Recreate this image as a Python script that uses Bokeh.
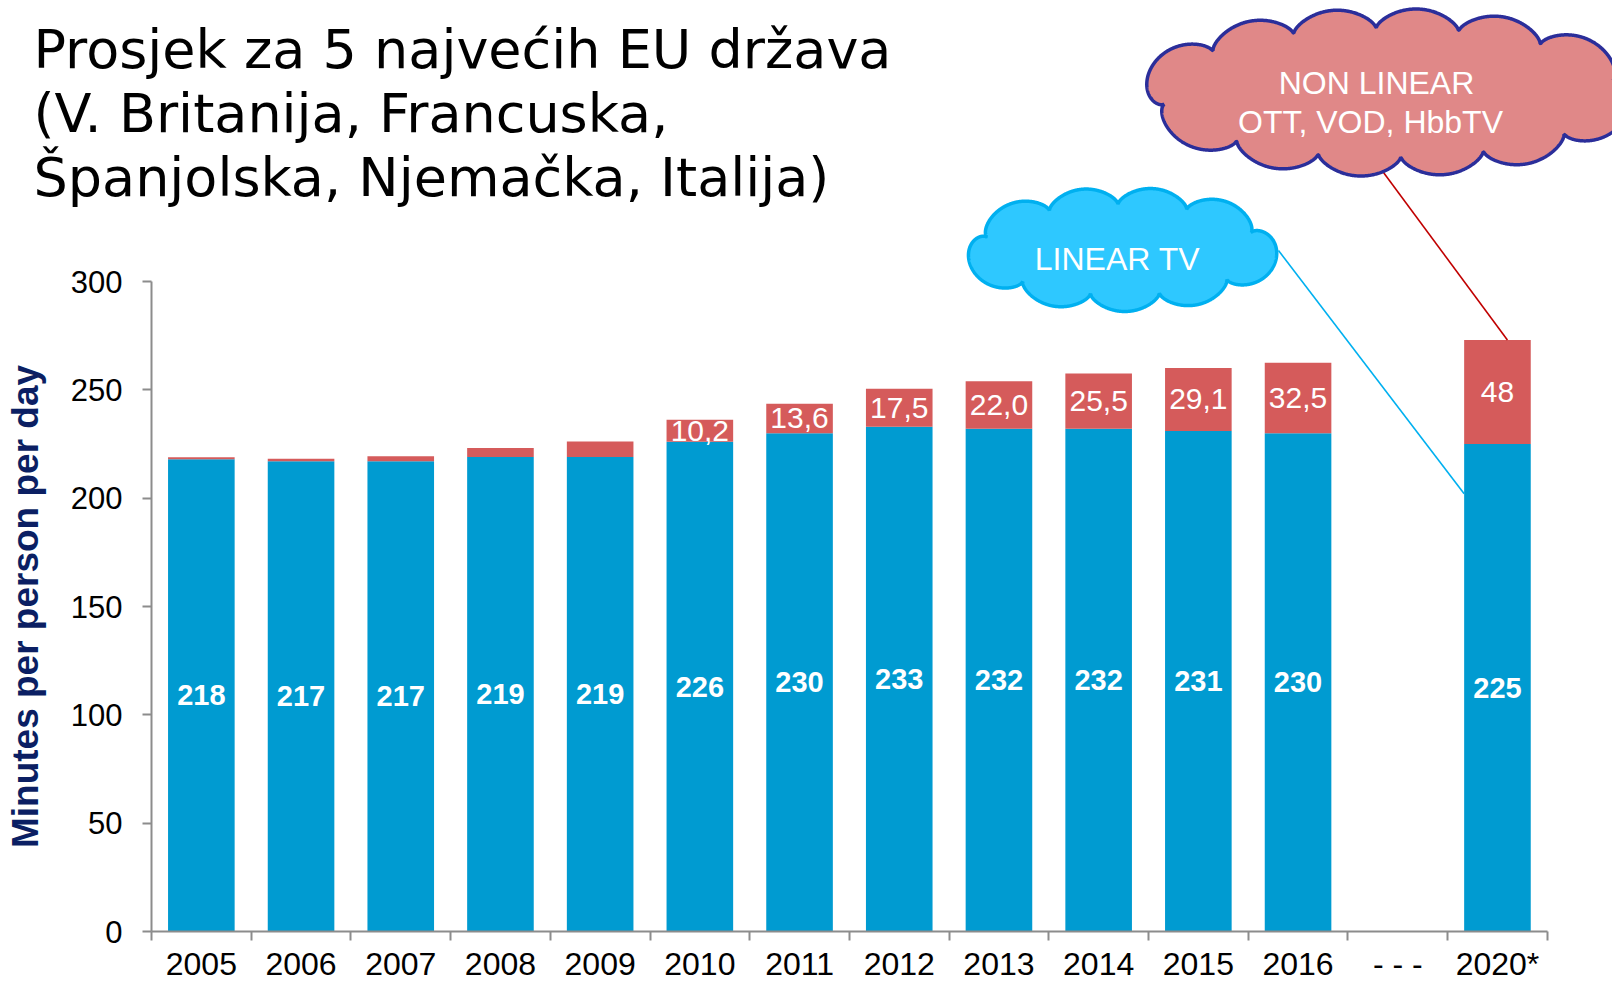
import numpy as np
from bokeh.plotting import figure
from bokeh.models import (ColumnDataSource, Range1d, FixedTicker, Label)
from bokeh.core.properties import value
from bokeh.embed import file_html
from bokeh.resources import INLINE

# ---------------- data ----------------
categories = ["2005", "2006", "2007", "2008", "2009", "2010", "2011", "2012",
              "2013", "2014", "2015", "2016", "- - -", "2020*"]
linear_tv = [218, 217, 217, 219, 219, 226, 230, 233, 232, 232, 231, 230, None, 225]
non_linear = [0.9, 1.2, 2.3, 4.2, 7.1, 10.2, 13.6, 17.5, 22.0, 25.5, 29.1, 32.5, None, 48]
non_linear_labels = ["", "", "", "", "", "10,2", "13,6", "17,5", "22,0", "25,5",
                     "29,1", "32,5", "", "48"]
y_ticks = [0, 50, 100, 150, 200, 250, 300]
title_lines = ["Prosjek za 5 najvećih EU država",
               "(V. Britanija, Francuska,",
               "Španjolska, Njemačka, Italija)"]
y_label = "Minutes per person per day"

# ---------------- geometry (page pixels, canvas at page origin) ----------------
W, H = 1612, 984
AX_LEFT = 151        # page x of the y axis line
AX_BOTTOM = 931      # page y of the x axis line
cat_px = 99.7
y_px = (AX_BOTTOM - 281) / 300.0
x0 = -0.5 - AX_LEFT / cat_px
x1 = x0 + W / cat_px
y1 = AX_BOTTOM / y_px
y0 = -(H - AX_BOTTOM) / y_px

def PX(page_x):
    return x0 + np.asarray(page_x, dtype=float) / cat_px

def PY(page_y):
    return (AX_BOTTOM - np.asarray(page_y, dtype=float)) / y_px

BLUE = "#009BD1"
RED = "#D55B5B"
BAR_W = 0.668

p = figure(width=W, height=H, output_backend="svg", toolbar_location=None,
           x_range=Range1d(x0, x1), y_range=Range1d(y0, y1),
           min_border_left=0, min_border_right=0, min_border_top=0,
           min_border_bottom=0)
p.outline_line_color = None
p.xgrid.visible = False
p.ygrid.visible = False
p.background_fill_color = "white"

idx = [i for i, v in enumerate(linear_tv) if v is not None]
src = ColumnDataSource(dict(
    x=idx,
    lin=[linear_tv[i] for i in idx],
    top=[linear_tv[i] + non_linear[i] for i in idx],
    lin_mid=[linear_tv[i] / 2 for i in idx],
    nl_mid=[linear_tv[i] + non_linear[i] / 2 for i in idx],
    lin_txt=[str(linear_tv[i]) for i in idx],
    nl_txt=[non_linear_labels[i] for i in idx],
))

p.vbar(x="x", bottom=0, top="lin", width=BAR_W, source=src,
       fill_color=BLUE, line_color=None)
p.vbar(x="x", bottom="lin", top="top", width=BAR_W, source=src,
       fill_color=RED, line_color=None)

p.text(x="x", y="lin_mid", text="lin_txt", source=src, text_color="white",
       text_font=value("Liberation Sans"), text_font_style="bold",
       text_font_size="29px", text_align="center", text_baseline="middle")
p.text(x="x", y="nl_mid", text="nl_txt", source=src, text_color="white",
       text_font=value("Liberation Sans"), text_font_size="30px",
       text_align="center", text_baseline="middle")

# ---------------- axes ----------------
xa = p.xaxis[0]
xa.fixed_location = 0
xa.ticker = FixedTicker(ticks=list(range(len(categories))),
                        minor_ticks=[i - 0.5 for i in range(len(categories) + 1)])
xa.major_label_overrides = {i: c for i, c in enumerate(categories)}
xa.bounds = (-0.5, len(categories) - 0.5)
xa.major_tick_out = 0
xa.major_tick_in = 0
xa.minor_tick_out = 9
xa.minor_tick_in = 0
xa.minor_tick_line_color = "#8C8C8C"
xa.minor_tick_line_width = 2
xa.axis_line_color = "#8C8C8C"
xa.axis_line_width = 2
xa.major_label_text_font = "Liberation Sans"
xa.major_label_text_font_size = "32px"
xa.major_label_text_color = "black"
xa.major_label_standoff = 5

ya = p.yaxis[0]
ya.fixed_location = -0.5
ya.ticker = FixedTicker(ticks=y_ticks, minor_ticks=[])
ya.bounds = (0, 300)
ya.major_tick_out = 9
ya.major_tick_in = 0
ya.major_tick_line_color = "#8C8C8C"
ya.major_tick_line_width = 2
ya.axis_line_color = "#8C8C8C"
ya.axis_line_width = 2
ya.major_label_text_font = "Liberation Sans"
ya.major_label_text_font_size = "31px"
ya.major_label_text_color = "black"
ya.major_label_standoff = 20
ya.axis_label = y_label
ya.axis_label_text_font = "Liberation Sans"
ya.axis_label_text_font_style = "bold"
ya.axis_label_text_font_size = "37px"
ya.axis_label_text_color = "#0B1F63"
ya.axis_label_standoff = 22

# ---------------- title ----------------
for line, base in zip(title_lines, [49, 113, 177]):
    p.add_layout(Label(x=float(PX(33)), y=float(PY(base)), text=line,
                       text_font="DejaVu Sans", text_font_size="54px",
                       text_color="black", text_baseline="alphabetic",
                       text_align="left"))

# ---------------- clouds ----------------
def cloud(cx, cy, hw, hh, n, depth, phase):
    a, b = hw - depth, hh - depth
    t = np.linspace(0, 2 * np.pi, 2001)
    ex, ey = a * np.cos(t), b * np.sin(t)
    seg = np.hypot(np.diff(ex), np.diff(ey))
    s = np.concatenate([[0], np.cumsum(seg)])
    u = (s / s[-1] * n + phase) % 1.0
    bump = depth * np.sin(np.pi * u) ** 0.6
    nx, ny = b * np.cos(t), a * np.sin(t)
    nn = np.hypot(nx, ny)
    x = cx + ex + bump * nx / nn
    y = cy + ey + bump * ny / nn
    return PX(x), PY(y)

i2020 = categories.index("2020*")
p.segment(x0=[float(PX(1383))], y0=[float(PY(172))],
          x1=[i2020 + 0.1], y1=[linear_tv[i2020] + non_linear[i2020]],
          line_color="#C00000", line_width=1.6)
p.segment(x0=[float(PX(1278))], y0=[float(PY(250))],
          x1=[i2020 - BAR_W / 2], y1=[202],
          line_color="#00B0F0", line_width=1.6)

cx1, cy1 = cloud(1388, 92, 248, 84, 12, 20, 0.15)
p.patch(cx1, cy1, fill_color="#E08888", line_color="#2B2E9A", line_width=3.5)
cx2, cy2 = cloud(1121, 249, 157, 62, 9, 17, 0.3)
p.patch(cx2, cy2, fill_color="#2EC8FF", line_color="#00B0F0", line_width=3.5)

for txt, xx, yy in [("NON LINEAR", 1376, 82), ("OTT, VOD, HbbTV", 1370, 121)]:
    p.add_layout(Label(x=float(PX(xx)), y=float(PY(yy)), text=txt,
                       text_font="Liberation Sans", text_font_size="32px",
                       text_color="white", text_align="center",
                       text_baseline="alphabetic"))
p.add_layout(Label(x=float(PX(1117)), y=float(PY(258)), text="LINEAR TV",
                   text_font="Liberation Sans", text_font_size="32px",
                   text_color="white", text_align="center",
                   text_baseline="alphabetic"))

open("out.html", "w").write(file_html(p, INLINE))
